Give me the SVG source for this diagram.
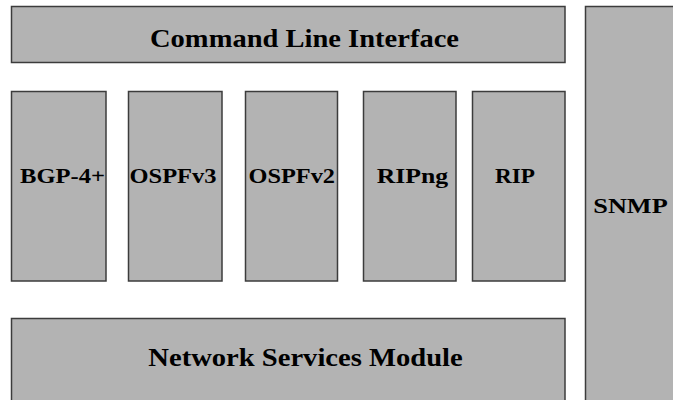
<svg xmlns="http://www.w3.org/2000/svg" width="673" height="400" viewBox="0 0 673 400">
  <style>
    .box { fill: #b3b3b3; stroke: #3c3c3c; stroke-width: 1.5; }
    .lbl { font-family: "Liberation Serif", "Times New Roman", serif; font-weight: bold; fill: #000; }
    .big { font-size: 26px; }
    .small { font-size: 20px; }
  </style>
  <rect width="673" height="400" fill="#ffffff"/>

  <g id="cli">
    <rect class="box" x="11.5" y="6.5" width="553.5" height="56"/>
    <text class="lbl big" x="150" y="47" textLength="309" lengthAdjust="spacingAndGlyphs">Command Line Interface</text>
  </g>

  <g id="bgp">
    <rect class="box" x="11.5" y="91.5" width="94.5" height="189.5"/>
    <text class="lbl small" x="20" y="183" textLength="85" lengthAdjust="spacingAndGlyphs">BGP-4+</text>
  </g>

  <g id="ospfv3">
    <rect class="box" x="128.5" y="91.5" width="93.5" height="189.5"/>
    <text class="lbl small" x="129.5" y="183" textLength="87" lengthAdjust="spacingAndGlyphs">OSPFv3</text>
  </g>

  <g id="ospfv2">
    <rect class="box" x="245.5" y="91.5" width="92" height="189.5"/>
    <text class="lbl small" x="248.5" y="183" textLength="86.5" lengthAdjust="spacingAndGlyphs">OSPFv2</text>
  </g>

  <g id="ripng">
    <rect class="box" x="363.5" y="91.5" width="92.5" height="189.5"/>
    <text class="lbl small" x="376.7" y="183" textLength="71.5" lengthAdjust="spacingAndGlyphs">RIPng</text>
  </g>

  <g id="rip">
    <rect class="box" x="472.5" y="91.5" width="92.5" height="189.5"/>
    <text class="lbl small" x="495" y="183" textLength="40" lengthAdjust="spacingAndGlyphs">RIP</text>
  </g>

  <g id="snmp">
    <rect class="box" x="585.5" y="6.5" width="95" height="405"/>
    <text class="lbl small" x="593.3" y="213" textLength="74.4" lengthAdjust="spacingAndGlyphs">SNMP</text>
  </g>

  <g id="nsm">
    <rect class="box" x="11.5" y="318.5" width="553.5" height="95"/>
    <text class="lbl big" x="148.3" y="366" textLength="314.4" lengthAdjust="spacingAndGlyphs">Network Services Module</text>
  </g>

  <g id="connectors"/>
</svg>
